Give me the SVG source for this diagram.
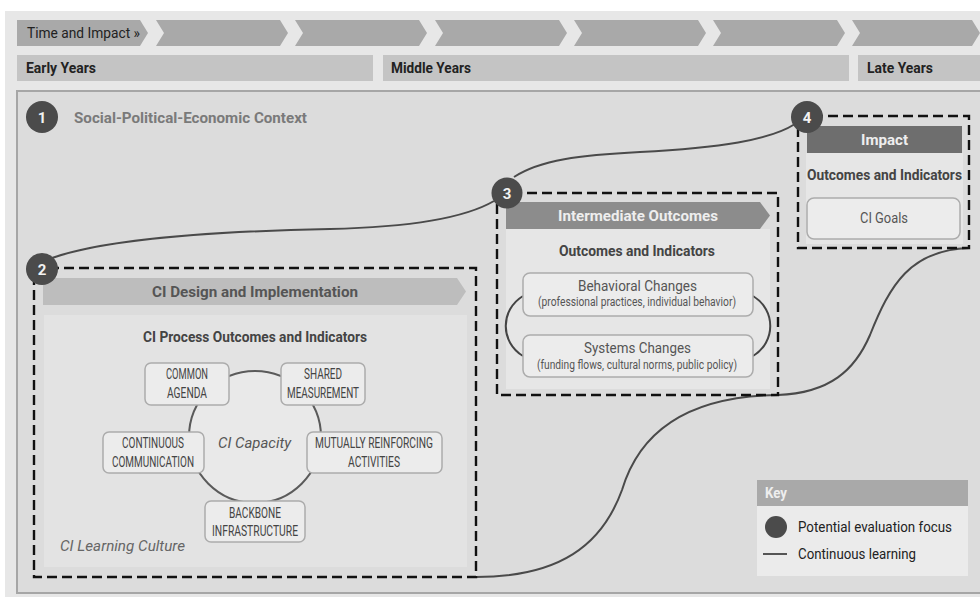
<svg xmlns="http://www.w3.org/2000/svg" width="980" height="597" viewBox="0 0 980 597">
  <defs>
    <style>
      .t { font-family: Roboto, "Liberation Sans", sans-serif; }
      .b { font-weight: bold; }
      .it { font-style: italic; }
      .chev { fill: #a9a9a9; }
      .yr { fill: #c4c4c4; }
      .yrt { font-size: 14px; fill: #222; font-weight: bold; }
      .dash { fill: none; stroke: #111; stroke-width: 2.4; stroke-dasharray: 10 5; }
      .num { fill: #4b4b4b; }
      .numt { font-size: 15px; fill: #f2f2f2; font-weight: bold; text-anchor: middle; }
      .node { fill: #ececec; stroke: #acacac; stroke-width: 1.5; }
      .cap { font-size: 15px; fill: #444; text-anchor: middle; }
      .sub { font-size: 14px; fill: #444; text-anchor: middle; font-weight: bold; }
      .learn { fill: none; stroke: #4a4a4a; stroke-width: 2; }
    </style>
  </defs>

  <!-- page background -->
  <rect x="0" y="0" width="980" height="597" fill="#ffffff"/>
  <rect x="5" y="11" width="975" height="586" fill="#e7e7e7"/>

  <!-- time row -->
  <g id="time-row">
    <polygon class="chev" points="17,20 140,20 148,33 140,46 17,46"/>
    <text class="t" x="27" y="38" font-size="14" fill="#222" textLength="113" lengthAdjust="spacingAndGlyphs">Time and Impact »</text>
    <polygon class="chev" points="156,20 280,20 288,33 280,46 156,46 164,33"/>
    <polygon class="chev" points="295,20 419,20 427,33 419,46 295,46 303,33"/>
    <polygon class="chev" points="435,20 559,20 567,33 559,46 435,46 443,33"/>
    <polygon class="chev" points="574,20 698,20 706,33 698,46 574,46 582,33"/>
    <polygon class="chev" points="713,20 837,20 845,33 837,46 713,46 721,33"/>
    <polygon class="chev" points="852,20 972,20 980,33 972,46 852,46 860,33"/>
  </g>

  <!-- years row -->
  <g id="years-row">
    <rect class="yr" x="17" y="55" width="356" height="26"/>
    <text class="t yrt" x="26" y="73" textLength="70" lengthAdjust="spacingAndGlyphs">Early Years</text>
    <rect class="yr" x="383" y="55" width="466" height="26"/>
    <text class="t yrt" x="391" y="73" textLength="80" lengthAdjust="spacingAndGlyphs">Middle Years</text>
    <rect class="yr" x="858" y="55" width="122" height="26"/>
    <text class="t yrt" x="867" y="73" textLength="66" lengthAdjust="spacingAndGlyphs">Late Years</text>
  </g>

  <!-- main context panel -->
  <g id="context">
    <rect x="17" y="91" width="970" height="502" fill="#dcdcdc" stroke="#a6a6a6" stroke-width="2"/>
    <circle class="num" cx="42" cy="117" r="16"/>
    <text class="t numt" x="42" y="122.5">1</text>
    <text class="t b" x="74" y="123" font-size="14.5" fill="#7a7a7a" textLength="233" lengthAdjust="spacingAndGlyphs">Social-Political-Economic Context</text>
  </g>

  <!-- continuous learning connectors -->
  <g id="connectors">
    <path class="learn" d="M52,258 C110,238 230,231 330,229 C420,227 470,215 494,201"/>
    <path class="learn" d="M514,177 C540,160 580,155 640,152 C720,148 770,140 795,124"/>
    <path class="learn" d="M476,577 C560,577 602,545 622,490 C640,430 690,396 778,395"/>
    <path class="learn" d="M778,395 C830,393 855,370 870,335 C890,285 910,250 969,248"/>
  </g>

  <!-- 2: CI design and implementation -->
  <g id="design">
    <rect x="44" y="315" width="423" height="252" fill="#e3e3e3"/>
    <polygon points="43,278 457,278 466,291.5 457,305 43,305" fill="#bdbdbd"/>
    <text class="t b" x="152" y="297" font-size="15" fill="#555" textLength="206" lengthAdjust="spacingAndGlyphs">CI Design and Implementation</text>
    <text class="t b" x="143" y="342" font-size="14.5" fill="#444" textLength="224" lengthAdjust="spacingAndGlyphs">CI Process Outcomes and Indicators</text>
    <circle cx="255" cy="437" r="66" fill="#e9e9e9" stroke="#5a5a5a" stroke-width="2"/>
    <text class="t it" x="218" y="448" font-size="15" fill="#555" textLength="73" lengthAdjust="spacingAndGlyphs">CI Capacity</text>
    <text class="t it" x="60" y="551" font-size="15" fill="#666" textLength="125" lengthAdjust="spacingAndGlyphs">CI Learning Culture</text>
    <rect class="dash" x="34" y="268" width="442" height="309"/>
    <circle class="num" cx="42" cy="269" r="16"/>
    <text class="t numt" x="42" y="274.5">2</text>
  </g>

  <g id="common-agenda">
    <rect class="node" x="145" y="363" width="84" height="42" rx="6"/>
    <text class="t cap" x="187" y="379" textLength="42" lengthAdjust="spacingAndGlyphs">COMMON</text>
    <text class="t cap" x="187" y="398" textLength="40" lengthAdjust="spacingAndGlyphs">AGENDA</text>
  </g>
  <g id="shared-measurement">
    <rect class="node" x="281" y="363" width="84" height="42" rx="6"/>
    <text class="t cap" x="323" y="379" textLength="38" lengthAdjust="spacingAndGlyphs">SHARED</text>
    <text class="t cap" x="323" y="398" textLength="72" lengthAdjust="spacingAndGlyphs">MEASUREMENT</text>
  </g>
  <g id="continuous-communication">
    <rect class="node" x="103" y="432" width="101" height="41" rx="6"/>
    <text class="t cap" x="153" y="448" textLength="62" lengthAdjust="spacingAndGlyphs">CONTINUOUS</text>
    <text class="t cap" x="153" y="467" textLength="82" lengthAdjust="spacingAndGlyphs">COMMUNICATION</text>
  </g>
  <g id="mutually-reinforcing">
    <rect class="node" x="307" y="432" width="135" height="41" rx="6"/>
    <text class="t cap" x="374" y="448" textLength="118" lengthAdjust="spacingAndGlyphs">MUTUALLY REINFORCING</text>
    <text class="t cap" x="374" y="467" textLength="52" lengthAdjust="spacingAndGlyphs">ACTIVITIES</text>
  </g>
  <g id="backbone">
    <rect class="node" x="205" y="501" width="100" height="41" rx="6"/>
    <text class="t cap" x="255" y="518" textLength="52" lengthAdjust="spacingAndGlyphs">BACKBONE</text>
    <text class="t cap" x="255" y="536" textLength="86" lengthAdjust="spacingAndGlyphs">INFRASTRUCTURE</text>
  </g>

  <!-- 3: intermediate outcomes -->
  <g id="intermediate">
    <rect x="506" y="229" width="264" height="160" fill="#e6e6e6"/>
    <polygon points="506,202 760,202 770,215.5 760,229 506,229" fill="#8c8c8c"/>
    <text class="t b" x="558" y="221" font-size="15" fill="#eeeeee" textLength="160" lengthAdjust="spacingAndGlyphs">Intermediate Outcomes</text>
    <text class="t b" x="559" y="256" font-size="14.5" fill="#444" textLength="156" lengthAdjust="spacingAndGlyphs">Outcomes and Indicators</text>
    <path d="M523,296 C500,310 500,342 523,356" fill="none" stroke="#444" stroke-width="2"/>
    <path d="M753,296 C776,310 776,342 753,356" fill="none" stroke="#444" stroke-width="2"/>
    <rect class="dash" x="497" y="193" width="281" height="202"/>
    <circle class="num" cx="507" cy="193" r="15.5"/>
    <text class="t numt" x="507" y="198.5">3</text>
  </g>
  <g id="behavioral-changes">
    <rect class="node" x="523" y="273" width="230" height="43" rx="7"/>
    <text class="t" x="578" y="291" font-size="15" fill="#555" textLength="119" lengthAdjust="spacingAndGlyphs">Behavioral Changes</text>
    <text class="t" x="538" y="306" font-size="12" fill="#555" textLength="198" lengthAdjust="spacingAndGlyphs">(professional practices, individual behavior)</text>
  </g>
  <g id="systems-changes">
    <rect class="node" x="523" y="335" width="230" height="42" rx="7"/>
    <text class="t" x="584" y="353" font-size="15" fill="#555" textLength="107" lengthAdjust="spacingAndGlyphs">Systems Changes</text>
    <text class="t" x="537" y="369" font-size="12" fill="#555" textLength="200" lengthAdjust="spacingAndGlyphs">(funding flows, cultural norms, public policy)</text>
  </g>

  <!-- 4: impact -->
  <g id="impact">
    <rect x="806" y="153" width="157" height="91" fill="#e6e6e6"/>
    <rect x="807" y="126" width="155" height="27" fill="#6e6e6e"/>
    <text class="t b" x="861" y="145" font-size="15" fill="#eeeeee" textLength="47" lengthAdjust="spacingAndGlyphs">Impact</text>
    <text class="t b" x="807" y="180" font-size="14.5" fill="#444" textLength="155" lengthAdjust="spacingAndGlyphs">Outcomes and Indicators</text>
    <rect class="dash" x="798" y="116" width="171" height="132"/>
    <circle class="num" cx="807" cy="117" r="16"/>
    <text class="t numt" x="807" y="122.5">4</text>
  </g>
  <g id="ci-goals">
    <rect class="node" x="807" y="198" width="153" height="41" rx="7"/>
    <text class="t" x="860" y="223" font-size="15" fill="#555" textLength="48" lengthAdjust="spacingAndGlyphs">CI Goals</text>
  </g>

  <!-- key -->
  <g id="key">
    <rect x="757" y="480" width="211" height="26" fill="#a9a9a9"/>
    <text class="t b" x="765" y="498" font-size="14" fill="#eeeeee" textLength="22" lengthAdjust="spacingAndGlyphs">Key</text>
    <rect x="757" y="506" width="211" height="70" fill="#ebebeb"/>
    <circle cx="776" cy="527" r="11" fill="#4b4b4b"/>
    <text class="t" x="798" y="532" font-size="14" fill="#222" textLength="154" lengthAdjust="spacingAndGlyphs">Potential evaluation focus</text>
    <line x1="763" y1="554" x2="787" y2="554" stroke="#555" stroke-width="2"/>
    <text class="t" x="798" y="559" font-size="14" fill="#222" textLength="118" lengthAdjust="spacingAndGlyphs">Continuous learning</text>
  </g>
</svg>
